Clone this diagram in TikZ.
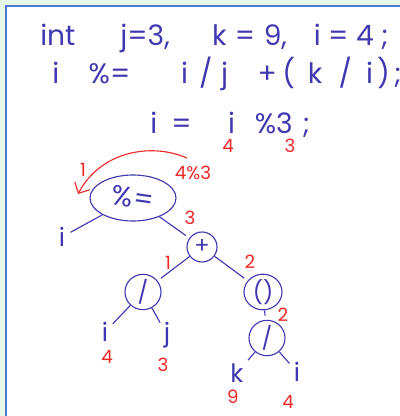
\documentclass[tikz,border=0pt]{standalone}
\usepackage{fontspec}
\setmainfont{Poppins}
\usetikzlibrary{shapes.geometric,arrows.meta}
\definecolor{ink}{RGB}{64,56,176}
\definecolor{hot}{RGB}{240,40,40}
\definecolor{paper}{RGB}{228,250,230}
\definecolor{frame}{RGB}{80,120,210}
\tikzset{
  code/.style={ink, anchor=base west, inner sep=0pt, font=\fontsize{20}{24}\selectfont},
  opnode/.style={draw=ink, ellipse, thick, ink, inner sep=0pt, font=\fontsize{16}{18}\selectfont},
  leaf/.style={ink, inner sep=1pt, font=\fontsize{18}{20}\selectfont},
  val/.style={hot, inner sep=0pt, font=\fontsize{13}{15}\selectfont},
  edge/.style={ink, thick, shorten >=3pt}
}
\begin{document}
\begin{tikzpicture}[x=0.025cm,y=-0.025cm]
  % page and panel
  \useasboundingbox (0,0) rectangle (400,416);
  \fill[paper] (0,0) rectangle (400,416);
  \fill[white] (6,6) rectangle (400,416);
  \draw[frame, line width=1.5pt] (6,416) -- (6,6) -- (400,6);
  % the three lines of code
  \node[code] (decl) at (40,45) {int\hspace{1.6em}j=3,\hspace{1.5em}k\hspace{0.3em}=\hspace{0.3em}9,\hspace{0.95em}i = 4 ;};
  \node[code] (stmt) at (52,83) {i\hspace{1.05em}\%=\hspace{1.8em}i\hspace{0.4em}/\hspace{0.3em}j\hspace{1.05em}+\hspace{0.2em}(\hspace{0.45em}k\hspace{0.58em}/\hspace{0.5em}i\hspace{0.15em})\hspace{0.15em};};
  \node[code] (expd) at (150,133) {i\hspace{0.5em}=\hspace{1.3em}i\hspace{0.7em}\%3\hspace{0.35em};};
  \node[val] (vi) at (228,146) {4};
  \node[val] (vthree) at (290,146) {3};
  % the tree
  \node[opnode, minimum width=2.15cm, minimum height=1.15cm, font=\fontsize{20}{24}\selectfont] (assign) at (133,198) {\rotatebox{-8}{\%=}};
  \node[opnode, circle, minimum size=0.75cm] (plus) at (202,247) {+};
  \node[opnode, minimum width=0.9cm, minimum height=0.8cm] (divL) at (143,292) {/};
  \node[opnode, minimum width=0.95cm, minimum height=0.63cm] (paren) at (263,292) {()};
  \node[opnode, minimum width=0.9cm, minimum height=0.7cm] (divR) at (267,338) {/};
  \node[leaf] (lhs) at (62,237) {i};
  \node[leaf] (iL) at (105,332) {i};
  \node[leaf] (jL) at (167,335) {j};
  \node[leaf] (kR) at (237,373) {k};
  \node[leaf] (iR) at (297,372) {i};
  \draw[edge] (assign) -- (lhs);
  \draw[edge] (assign) -- (plus);
  \draw[edge] (plus) -- (divL);
  \draw[edge] (plus) -- (paren);
  \draw[edge] (paren) -- (divR);
  \draw[edge] (divL) -- (iL);
  \draw[edge] (divL) -- (jL);
  \draw[edge] (divR) -- (kR);
  \draw[edge] (divR) -- (iR);
  % values
  \node[val] (res) at (193,173) {4\%3};
  \node[val] (rone) at (83,170) {1};
  \node[val] (rthree) at (190,218) {3};
  \node[val] (sone) at (168,263) {1};
  \node[val] (stwo) at (250,262) {2};
  \node[val] (ptwo) at (283,315) {2};
  \node[val] (vfour) at (107,357) {4};
  \node[val] (vthreeL) at (163,365) {3};
  \node[val] (vnine) at (233,397) {9};
  \node[val] (vfourR) at (288,402) {4};
  % order of evaluation
  \coordinate (arcfrom) at (187,158);
  \coordinate (arcto) at (78,194);
  \draw[hot, thick, -{Straight Barb[length=6pt]}] (arcfrom) .. controls (150,142) and (100,152) .. (arcto);
\end{tikzpicture}
\end{document}
